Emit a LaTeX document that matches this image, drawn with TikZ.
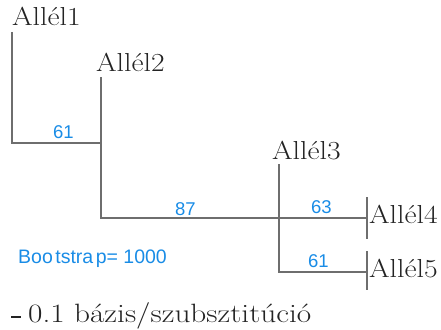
\documentclass[tikz,border=0pt]{standalone}
\usepackage{fontspec}
\newfontfamily\lab{Liberation Sans}
\newfontfamily\wideserif[FakeStretch=1.14]{Latin Modern Roman}
\newfontfamily\widerserif[FakeStretch=1.18]{Latin Modern Roman}
\definecolor{bsblue}{RGB}{25,140,230}
\definecolor{txtgray}{RGB}{35,35,35}
\definecolor{linegray}{RGB}{110,110,110}
\begin{document}
\begin{tikzpicture}[x=1pt,y=-1pt,
  allele/.style={font=\wideserif\fontsize{26}{28}\selectfont, text=txtgray, inner sep=0pt, anchor=base west},
  boot/.style={font=\lab\fontsize{18.5}{20}\selectfont, text=bsblue, inner sep=0pt, anchor=base west},
  branch/.style={draw=linegray, line width=1.2pt}]
\useasboundingbox (0,0) rectangle (441,329);
% labels
\node[allele] (a1) at (12,26) {Allél1};
\node[allele] (a2) at (96,71) {Allél2};
\node[allele] (a3) at (272,159) {Allél3};
\node[allele] (a4) at (369,223) {Allél4};
\node[allele] (a5) at (369,277) {Allél5};
% tree coordinates
\coordinate (t1) at (12,32);
\coordinate (j1) at (12,143);
\coordinate (t2) at (101,77);
\coordinate (j12) at (101,143);
\coordinate (j2) at (101,218);
\coordinate (t3) at (279,164);
\coordinate (j34) at (279,218);
\coordinate (j3) at (279,272);
\coordinate (e4) at (367,218);
\coordinate (e5) at (367,272);
\coordinate (k4a) at (367,197);
\coordinate (k4b) at (367,239);
\coordinate (k5a) at (367,251);
\coordinate (k5b) at (367,290);
\draw[branch] (t1) -- (j1) -- (j12);
\draw[branch] (t2) -- (j2) -- (e4);
\draw[branch] (t3) -- (j3) -- (e5);
\draw[branch] (k4a) -- (k4b);
\draw[branch] (k5a) -- (k5b);
% bootstrap values
\node[boot] (b1) at (53,138) {61};
\node[boot] (b2) at (175,215) {87};
\node[boot] (b3) at (311,213) {63};
\node[boot] (b4) at (308,267) {61};
\node[boot, font=\lab\fontsize{19.5}{21}\selectfont] (bs) at (18,263) {Boo\kern2.5pt tstra\kern2.5pt p= 1000};
% scale
\coordinate (s1) at (11,317);
\coordinate (s2) at (21,317);
\draw[draw=txtgray, line width=1.8pt] (s1) -- (s2);
\node[allele, font=\widerserif\fontsize{26.5}{28}\selectfont] (sc) at (28,322) {0.1 bázis/szubsztitúció};
\end{tikzpicture}
\end{document}
